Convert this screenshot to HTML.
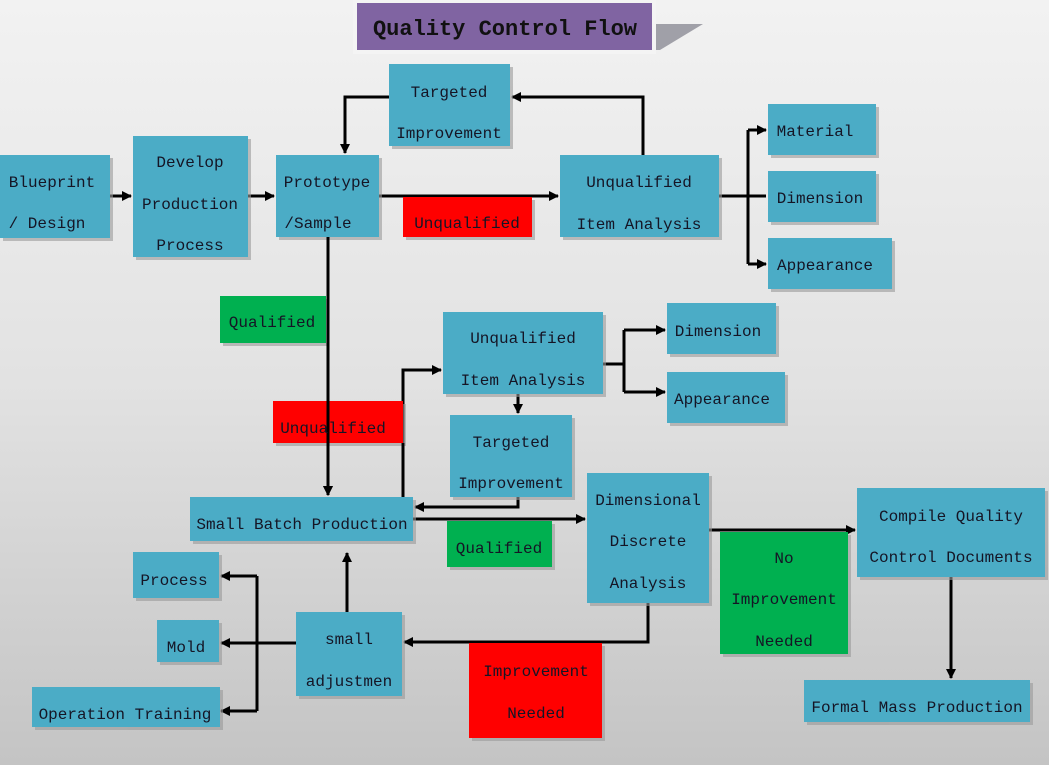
<!DOCTYPE html>
<html><head><meta charset="utf-8"><style>
html,body{margin:0;padding:0;width:1049px;height:765px;overflow:hidden}
svg text{font-family:"Liberation Mono","DejaVu Sans Mono",monospace;font-size:16px;fill:#151525;text-anchor:middle}
</style></head><body>
<svg width="1049" height="765" xmlns="http://www.w3.org/2000/svg">
<defs>
<linearGradient id="bg" x1="0" y1="0" x2="0" y2="1"><stop offset="0" stop-color="#f2f2f2"/><stop offset="0.5" stop-color="#e2e2e2"/><stop offset="1" stop-color="#c4c4c4"/></linearGradient>
<marker id="a" markerWidth="10" markerHeight="10" refX="9" refY="5" orient="auto" markerUnits="userSpaceOnUse"><path d="M0,0 L10,5 L0,10 z" fill="#000"/></marker>
</defs>
<rect width="1049" height="765" fill="url(#bg)"/>
<!-- title -->
<polygon points="652,24 703,24 660,50 652,50" fill="#a0a0a8"/>
<rect x="353" y="0" width="303" height="54" fill="#f4f4f4"/>
<rect x="357" y="3" width="295" height="47" fill="#8064a2"/>
<text x="505" y="35" style="font-size:22px;fill:#111;font-weight:bold">Quality Control Flow</text>
<g fill="none" stroke="#000" stroke-width="3">
<path d="M110,196 H131" marker-end="url(#a)"/>
<path d="M248,196 H274" marker-end="url(#a)"/>
<path d="M379,196 H558" marker-end="url(#a)"/>
<path d="M643,155 V97 H512" marker-end="url(#a)"/>
<path d="M389,97 H345 V153" marker-end="url(#a)"/>
<path d="M719,196 H766"/>
<path d="M748,130 V264"/>
<path d="M748,130 H766" marker-end="url(#a)"/>
<path d="M748,264 H766" marker-end="url(#a)"/>
<path d="M328,237 V495" marker-end="url(#a)"/>
<path d="M403,497 V370 H441" marker-end="url(#a)"/>
<path d="M518,394 V413" marker-end="url(#a)"/>
<path d="M603,364 H624"/>
<path d="M624,330 V392"/>
<path d="M624,330 H665" marker-end="url(#a)"/>
<path d="M624,392 H665" marker-end="url(#a)"/>
<path d="M518,497 V507 H415" marker-end="url(#a)"/>
<path d="M413,519 H585" marker-end="url(#a)"/>
<path d="M709,530 H855" marker-end="url(#a)"/>
<path d="M951,577 V678" marker-end="url(#a)"/>
<path d="M648,603 V642 H404" marker-end="url(#a)"/>
<path d="M347,612 V553" marker-end="url(#a)"/>
<path d="M296,643 H221" marker-end="url(#a)"/>
<path d="M257,576 V711"/>
<path d="M257,576 H221" marker-end="url(#a)"/>
<path d="M257,711 H221" marker-end="url(#a)"/>
</g>
<g>
<g fill="#9a9a9a" opacity="0.6">
<rect x="3" y="158" width="110" height="83"/><rect x="136" y="139" width="115" height="121"/><rect x="279" y="158" width="103" height="82"/>
<rect x="392" y="67" width="121" height="82"/><rect x="563" y="158" width="159" height="82"/>
<rect x="771" y="107" width="108" height="51"/><rect x="771" y="174" width="108" height="51"/><rect x="771" y="241" width="124" height="51"/>
<rect x="446" y="315" width="160" height="82"/><rect x="670" y="306" width="109" height="51"/><rect x="670" y="375" width="118" height="51"/>
<rect x="453" y="418" width="122" height="82"/><rect x="193" y="500" width="223" height="44"/><rect x="590" y="476" width="122" height="130"/>
<rect x="860" y="491" width="188" height="89"/><rect x="807" y="683" width="226" height="42"/>
<rect x="136" y="555" width="86" height="46"/><rect x="160" y="623" width="62" height="42"/><rect x="35" y="690" width="188" height="40"/>
<rect x="299" y="615" width="106" height="84"/>
<rect x="223" y="299" width="106" height="47"/><rect x="406" y="200" width="129" height="40"/><rect x="276" y="404" width="130" height="42"/>
<rect x="450" y="524" width="105" height="46"/><rect x="723" y="535" width="128" height="122"/><rect x="472" y="646" width="133" height="95"/>
</g>
<g fill="#4bacc6">
<rect x="0" y="155" width="110" height="83"/><rect x="133" y="136" width="115" height="121"/><rect x="276" y="155" width="103" height="82"/>
<rect x="389" y="64" width="121" height="82"/><rect x="560" y="155" width="159" height="82"/>
<rect x="768" y="104" width="108" height="51"/><rect x="768" y="171" width="108" height="51"/><rect x="768" y="238" width="124" height="51"/>
<rect x="443" y="312" width="160" height="82"/><rect x="667" y="303" width="109" height="51"/><rect x="667" y="372" width="118" height="51"/>
<rect x="450" y="415" width="122" height="82"/><rect x="190" y="497" width="223" height="44"/><rect x="587" y="473" width="122" height="130"/>
<rect x="857" y="488" width="188" height="89"/><rect x="804" y="680" width="226" height="42"/>
<rect x="133" y="552" width="86" height="46"/><rect x="157" y="620" width="62" height="42"/><rect x="32" y="687" width="188" height="40"/>
<rect x="296" y="612" width="106" height="84"/>
</g>
<g fill="#00b050"><rect x="220" y="296" width="106" height="47"/><rect x="447" y="521" width="105" height="46"/><rect x="720" y="532" width="128" height="122"/></g>
<g fill="#ff0000"><rect x="403" y="197" width="129" height="40"/><rect x="273" y="401" width="130" height="42"/><rect x="469" y="643" width="133" height="95"/></g>
</g>
<g fill="none" stroke="#000" stroke-width="3"><path d="M328,237 V495" marker-end="url(#a)"/><path d="M403,497 V443"/></g>
<text x="52" y="187">Blueprint</text><text x="47" y="228">/ Design</text>
<text x="190" y="167">Develop</text><text x="190" y="209">Production</text><text x="190" y="250">Process</text>
<text x="327" y="187">Prototype</text><text x="318" y="228">/Sample</text>
<text x="449" y="97">Targeted</text><text x="449" y="138">Improvement</text>
<text x="639" y="187">Unqualified</text><text x="639" y="229">Item  Analysis</text>
<text x="467" y="228">Unqualified</text>
<text x="815" y="136">Material</text><text x="820" y="203">Dimension</text><text x="825" y="270">Appearance</text>
<text x="272" y="327">Qualified</text>
<text x="523" y="343">Unqualified</text><text x="523" y="385">Item  Analysis</text>
<text x="718" y="336">Dimension</text><text x="722" y="404">Appearance</text>
<text x="333" y="433">Unqualified</text>
<text x="511" y="447">Targeted</text><text x="511" y="488">Improvement</text>
<text x="302" y="529">Small Batch Production</text>
<text x="499" y="553">Qualified</text>
<text x="648" y="505">Dimensional</text><text x="648" y="546">Discrete</text><text x="648" y="588">Analysis</text>
<text x="784" y="563">No</text><text x="784" y="604">Improvement</text><text x="784" y="646">Needed</text>
<text x="951" y="521">Compile Quality</text><text x="951" y="562">Control Documents</text>
<text x="917" y="712">Formal Mass Production</text>
<text x="174" y="585">Process</text><text x="186" y="652">Mold</text><text x="125" y="719">Operation Training</text>
<text x="349" y="644">small</text><text x="349" y="686">adjustmen</text>
<text x="536" y="676">Improvement</text><text x="536" y="718">Needed</text>
</svg>
</body></html>
